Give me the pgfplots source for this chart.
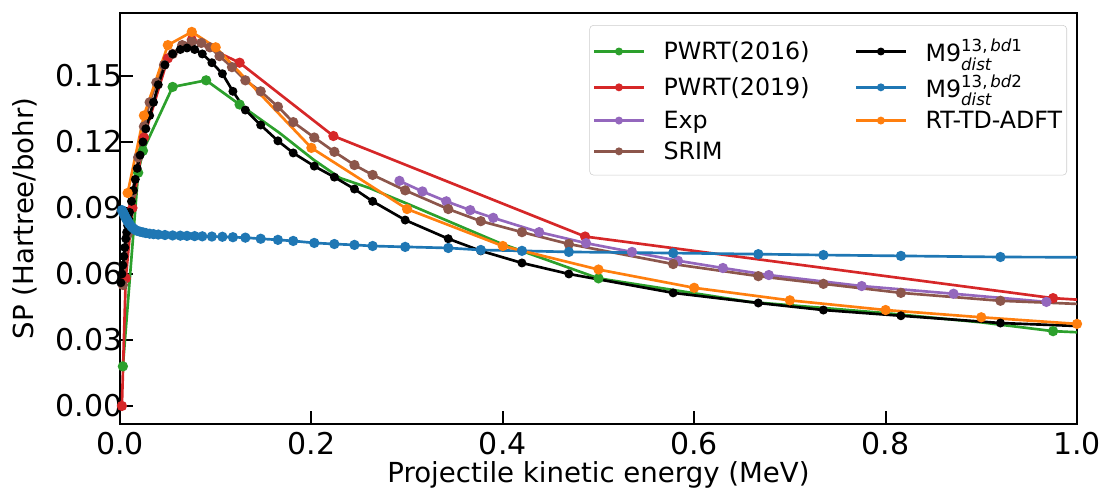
\documentclass[border=0pt]{standalone}
\usepackage{fontspec}
\setmainfont{DejaVu Sans}
\usepackage{amsmath}
\usepackage{pgfplots}
\pgfplotsset{compat=1.18}

\definecolor{cgreen}{HTML}{2CA02C}
\definecolor{cred}{HTML}{D62728}
\definecolor{cpurple}{HTML}{9467BD}
\definecolor{cbrown}{HTML}{8C564B}
\definecolor{cblue}{HTML}{1F77B4}
\definecolor{corange}{HTML}{FF7F0E}

\newcommand{\Mnine}[1]{M9$^{\text{13,\,}\textit{bd}\text{#1}}_{\textit{dist}}$}

\begin{document}
\begin{tikzpicture}
\begin{axis}[
    scale only axis,
    width=717.75pt, height=308.25pt,
    xmin=0, xmax=1, ymin=-0.0082, ymax=0.1786,
    xtick={0,0.2,0.4,0.6,0.8,1.0},
    ytick={0,0.03,0.06,0.09,0.12,0.15},
    xticklabel style={yshift=-3pt, /pgf/number format/fixed,
        /pgf/number format/fixed zerofill, /pgf/number format/precision=1},
    yticklabel style={xshift=5.5pt, /pgf/number format/fixed,
        /pgf/number format/fixed zerofill, /pgf/number format/precision=2},
    /pgf/number format/assume math mode=true,
    tick label style={font=\fontsize{22.5}{26}\selectfont},
    xlabel={Projectile kinetic energy (MeV)},
    ylabel={SP (Hartree/bohr)},
    every axis x label/.style={at={(axis description cs:0.5,0)}, yshift=-38pt,
        anchor=center, font=\fontsize{20.7}{24}\selectfont},
    every axis y label/.style={at={(axis description cs:0,0.5)}, xshift=-71pt,
        rotate=90, anchor=center, font=\fontsize{20.7}{24}\selectfont},
    tick align=inside, xtick pos=left, ytick pos=left,
    major tick length=9.5pt,
    every tick/.style={black, line width=1.5pt},
    axis line style={line width=2pt},
    every axis plot/.append style={line width=2pt, mark size=2.8pt},
    legend columns=2,
    legend cell align=left,
    legend style={at={(rel axis cs:1,1)}, xshift=-7.5pt, yshift=-9pt, anchor=north east,
        font=\fontsize{17.8}{21}\selectfont, draw=black!20, rounded corners=3pt,
        inner xsep=2.5pt, inner ysep=8.5pt, row sep=4.5pt,
        nodes={inner xsep=1pt},
        /tikz/every odd column/.append style={column sep=13pt},
        /tikz/every even column/.append style={column sep=33pt}},
    legend image code/.code={\draw[mark repeat=2, mark phase=2]
        plot coordinates {(0cm,0cm) (0.65cm,0cm) (1.3cm,0cm)};},
]
% legend order (row-wise, two columns)
\addlegendimage{cgreen, mark=*, line width=2pt, mark size=1.9pt}
\addlegendentry{PWRT(2016)}
\addlegendimage{black, mark=*, line width=2pt, mark size=1.9pt}
\addlegendentry{\Mnine{1}}
\addlegendimage{cred, mark=*, line width=2pt, mark size=1.9pt}
\addlegendentry{PWRT(2019)}
\addlegendimage{cblue, mark=*, line width=2pt, mark size=1.9pt}
\addlegendentry{\Mnine{2}}
\addlegendimage{cpurple, mark=*, line width=2pt, mark size=1.9pt}
\addlegendentry{Exp}
\addlegendimage{corange, mark=*, line width=2pt, mark size=1.9pt}
\addlegendentry{RT-TD-ADFT}
\addlegendimage{cbrown, mark=*, line width=2pt, mark size=1.9pt}
\addlegendentry{SRIM}

% PWRT(2016)
\addplot[cgreen, forget plot] coordinates {
(0.003,0.018) (0.019,0.106) (0.024,0.116) (0.055,0.145) (0.090,0.148)
(0.125,0.137) (0.167,0.124) (0.202,0.112) (0.230,0.1036) (0.261,0.099)
(0.303,0.0914) (0.397,0.074) (0.50,0.058) (0.658,0.0473) (0.797,0.0423)
(0.900,0.038) (0.975,0.034) (1.05,0.0325)};
\addplot[cgreen, only marks, mark=*, forget plot] coordinates {
(0.003,0.018) (0.019,0.106) (0.024,0.116) (0.055,0.145) (0.090,0.148)
(0.125,0.137) (0.50,0.058) (0.975,0.034)};

% PWRT(2019)
\addplot[cred, mark=*, forget plot] coordinates {
(0.002,0.0) (0.006,0.058) (0.013,0.09) (0.025,0.122) (0.05,0.158)
(0.075,0.1664) (0.125,0.156) (0.223,0.1227) (0.486,0.077) (0.975,0.049)
(1.05,0.047)};

% Exp
\addplot[cpurple, mark=*, forget plot] coordinates {
(0.292,0.1023) (0.316,0.0975) (0.341,0.093) (0.366,0.089) (0.390,0.0855)
(0.438,0.079) (0.487,0.074) (0.535,0.070) (0.583,0.066) (0.630,0.0627)
(0.678,0.0595) (0.775,0.0545) (0.871,0.051) (0.968,0.0473)};

% SRIM
\addplot[cbrown, mark=*, forget plot] coordinates {
(0.003,0.055) (0.008,0.078) (0.013,0.097) (0.019,0.113) (0.025,0.127)
(0.031,0.138) (0.038,0.147) (0.046,0.155) (0.055,0.160) (0.065,0.164)
(0.075,0.1655) (0.085,0.165) (0.094,0.163) (0.104,0.159) (0.117,0.154)
(0.131,0.148) (0.147,0.143) (0.165,0.136) (0.181,0.129) (0.203,0.122)
(0.224,0.1155) (0.245,0.1095) (0.264,0.105) (0.298,0.098) (0.343,0.0895)
(0.377,0.084) (0.420,0.079) (0.469,0.0736) (0.578,0.0645) (0.667,0.059)
(0.735,0.0555) (0.816,0.0514) (0.920,0.0478) (1.05,0.0455)};

% M9 bd1
\addplot[black, mark=*, mark size=2.3pt, forget plot] coordinates {
(0.001,0.056) (0.002,0.060) (0.003,0.064) (0.004,0.068) (0.005,0.072)
(0.006,0.076) (0.007,0.079) (0.008,0.082) (0.009,0.085) (0.010,0.088)
(0.012,0.093) (0.014,0.098) (0.016,0.103) (0.018,0.108) (0.021,0.114)
(0.024,0.120) (0.027,0.126) (0.031,0.132) (0.035,0.138) (0.040,0.146)
(0.047,0.155) (0.055,0.160) (0.063,0.162) (0.070,0.1627) (0.078,0.162)
(0.086,0.160) (0.096,0.156) (0.107,0.151) (0.118,0.143) (0.131,0.1345)
(0.147,0.1277) (0.165,0.1205) (0.181,0.115) (0.203,0.109) (0.224,0.104)
(0.245,0.0986) (0.264,0.093) (0.298,0.0845) (0.343,0.076) (0.377,0.0705)
(0.420,0.065) (0.469,0.060) (0.578,0.0514) (0.667,0.0468) (0.735,0.0436)
(0.816,0.041) (0.920,0.0377) (1.05,0.0355)};

% M9 bd2
\addplot[cblue, mark=*, forget plot] coordinates {
(0.002,0.089) (0.003,0.0882) (0.004,0.0873) (0.005,0.0864) (0.006,0.0855)
(0.007,0.0847) (0.008,0.084) (0.009,0.0833) (0.010,0.0826) (0.012,0.0815)
(0.014,0.0807) (0.016,0.080) (0.018,0.0796) (0.021,0.0792) (0.024,0.0789)
(0.027,0.0786) (0.031,0.0783) (0.035,0.0781) (0.040,0.0779) (0.047,0.0777)
(0.055,0.0775) (0.063,0.0774) (0.070,0.0773) (0.078,0.0772) (0.086,0.0771)
(0.096,0.077) (0.107,0.0769) (0.118,0.0767) (0.131,0.0765) (0.147,0.076)
(0.165,0.0755) (0.181,0.075) (0.203,0.0741) (0.224,0.0736) (0.245,0.0732)
(0.264,0.0727) (0.298,0.0723) (0.343,0.0718) (0.377,0.0709) (0.420,0.0705)
(0.469,0.070) (0.578,0.0695) (0.667,0.069) (0.735,0.0686) (0.816,0.0682)
(0.920,0.0677) (1.05,0.0675)};

% RT-TD-ADFT
\addplot[corange, mark=*, forget plot] coordinates {
(0.008,0.0968) (0.025,0.132) (0.05,0.164) (0.075,0.170) (0.1,0.163)
(0.2,0.1173) (0.3,0.0895) (0.4,0.0727) (0.5,0.062) (0.6,0.0537)
(0.7,0.048) (0.8,0.0436) (0.9,0.0403) (1.0,0.0373)};
\end{axis}
\pgfresetboundingbox
\path[use as bounding box] ([xshift=-90pt,yshift=-52.5pt]current axis.south west)
    rectangle ([xshift=24.75pt,yshift=9.75pt]current axis.north east);
\end{tikzpicture}
\end{document}
